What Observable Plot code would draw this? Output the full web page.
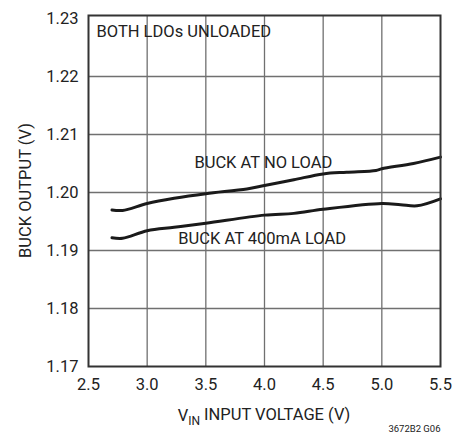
<!DOCTYPE html>
<html>
<head>
<meta charset="utf-8">
<script src="https://cdn.jsdelivr.net/npm/d3@7"></script>
<script src="https://cdn.jsdelivr.net/npm/@observablehq/plot@0.6"></script>
<style>
  html, body { margin: 0; padding: 0; background: #fff; }
  svg { display: block; }
</style>
</head>
<body>
<div id="chart"></div>
<script>
// Data
const vinNoLoad  = [2.70, 2.79, 3.00, 3.23, 3.50, 3.85, 4.00, 4.25, 4.50, 4.70, 4.95, 5.00, 5.27, 5.50];
const outNoLoad  = [1.1970, 1.1969, 1.1981, 1.1990, 1.1998, 1.2006, 1.2012, 1.2022, 1.2032, 1.2035, 1.2038, 1.2041, 1.2050, 1.2061];
const vin400mA   = [2.70, 2.79, 3.00, 3.23, 3.50, 4.00, 4.25, 4.50, 5.00, 5.16, 5.30, 5.50];
const out400mA   = [1.1922, 1.1921, 1.1934, 1.1940, 1.1947, 1.1961, 1.1964, 1.1971, 1.1981, 1.1979, 1.1977, 1.1989];
const xTicks = [2.5, 3.0, 3.5, 4.0, 4.5, 5.0, 5.5];
const yTicks = [1.17, 1.18, 1.19, 1.20, 1.21, 1.22, 1.23];
const annoText = ["BOTH LDOs UNLOADED", "BUCK AT NO LOAD", "BUCK AT 400mA LOAD"];
const annoX = [2.568, 3.99, 3.98];
const annoY = [1.2278, 1.2052, 1.1920];
const annoAnchor = ["start", "middle", "middle"];
const yLabel = "BUCK OUTPUT (V)";
const caption = "3672B2 G06";

const FONT = "Roboto, 'Liberation Sans', sans-serif";
const series = [
  vinNoLoad.map((x, i) => ({x, y: outNoLoad[i], s: "no"})),
  vin400mA.map((x, i) => ({x, y: out400mA[i], s: "400"}))
].flat();
const annos = annoText.map((t, i) => ({t, x: annoX[i], y: annoY[i], a: annoAnchor[i]}));

const chart = Plot.plot({
  width: 463,
  height: 436,
  marginLeft: 88,
  marginRight: 23,
  marginTop: 18,
  marginBottom: 70,
  style: {fontFamily: FONT, fontSize: "16.5px", color: "#222", background: "#fff"},
  x: {domain: [2.5, 5.5], ticks: xTicks, tickFormat: d3.format(".1f"), tickSize: 0, tickPadding: 12, label: null},
  y: {domain: [1.17, 1.23], ticks: yTicks, tickFormat: d3.format(".2f"), tickSize: 0, tickPadding: 10, label: null},
  marks: [
    Plot.gridX(xTicks.slice(1, -1), {stroke: "#707070", strokeOpacity: 1, strokeWidth: 1.3, insetTop: -3}),
    Plot.gridY(yTicks.slice(1, -1), {stroke: "#707070", strokeOpacity: 1, strokeWidth: 1.3}),
    Plot.line(series, {x: "x", y: "y", z: "s", stroke: "#1a1a1a", strokeWidth: 3, curve: "catmull-rom"}),
    Plot.text(annos.filter(d => d.a === "start"), {x: "x", y: "y", text: "t", textAnchor: "start", fill: "#222", fontSize: 16.5, className: "anno"}),
    Plot.text(annos.filter(d => d.a === "middle"), {x: "x", y: "y", text: "t", textAnchor: "middle", fill: "#222", fontSize: 16.5, className: "anno"}),
    Plot.frame({stroke: "#333", strokeWidth: 2, insetTop: -3}),
    Plot.text([yLabel], {frameAnchor: "left", textAnchor: "middle", dx: -62.5, dy: -2, rotate: -90, fill: "#222", fontSize: 16.5}),
    Plot.text([caption], {frameAnchor: "bottom-right", textAnchor: "end", dy: 65, fill: "#222", fontSize: 9.5})
  ]
});
document.getElementById("chart").appendChild(chart);

// white boxes behind annotations
d3.select(chart).selectAll("g.anno text").each(function() {
  const b = this.getBBox();
  const pad = 4;
  d3.select(this.parentNode).insert("rect", () => this)
    .attr("x", b.x - pad).attr("y", b.y - 1).attr("width", b.width + 2 * pad).attr("height", b.height + 2)
    .attr("fill", "#fff");
});

// x-axis label with subscript
const xl = d3.select(chart).append("text")
  .attr("x", (88 + 440) / 2)
  .attr("y", 421)
  .attr("text-anchor", "middle")
  .attr("fill", "#222")
  .style("font-family", FONT)
  .style("font-size", "16.5px");
xl.append("tspan").text("V");
xl.append("tspan").attr("dy", "0.3em").style("font-size", "12px").text("IN");
xl.append("tspan").attr("dy", "-0.3em").text(" INPUT VOLTAGE (V)");
</script>
</body>
</html>
